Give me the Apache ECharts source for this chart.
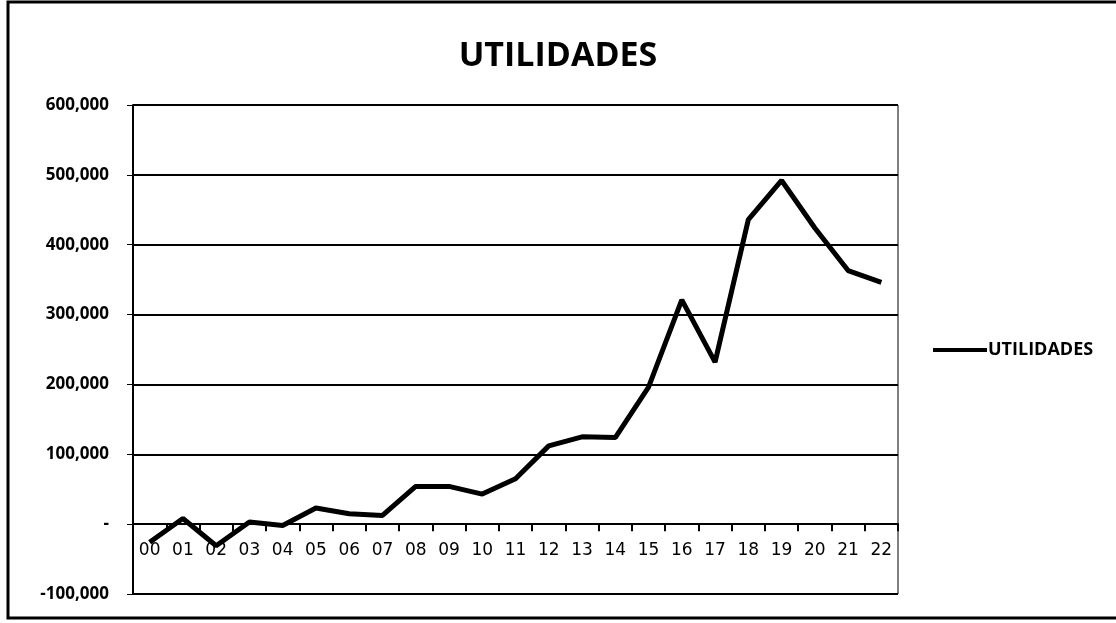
<!DOCTYPE html>
<html>
<head>
<meta charset="utf-8">
<script src="https://cdn.jsdelivr.net/npm/echarts@6/dist/echarts.min.js"></script>
<style>
  html, body { margin: 0; padding: 0; background: #fff; }
  #myChart { width: 1116px; height: 623px; }
</style>
</head>
<body>
<div id="myChart"></div>
<script>
// years 00..22
var years = ['00','01','02','03','04','05','06','07','08','09','10','11',
             '12','13','14','15','16','17','18','19','20','21','22'];
// utilidades
var utilidades = [-26000, 8000, -31000, 3000, -2000, 23000, 15000, 12500, 54000,
                  54000, 43000, 65000, 112000, 125000, 124000, 196000, 321000,
                  232000, 436000, 492000, 424000, 363000, 346000];
var yTicks = { min: -100000, max: 600000, step: 100000 };

var myChart = echarts.init(document.getElementById('myChart'));

function fmt(v){
  if (v === 0) return '-';
  return (v < 0 ? '-' : '') + Math.abs(v).toString().replace(/\B(?=(\d{3})+(?!\d))/g, ',');
}

var option = {
  animation: false,
  title: {
    text: 'UTILIDADES',
    left: 'center',
    top: 34,
    textStyle: { fontFamily: 'Open Sans', fontWeight: 'bold', fontSize: 34, color: '#000' }
  },
  legend: {
    data: ['UTILIDADES'],
    orient: 'vertical',
    left: 928,
    top: 336,
    itemWidth: 54,
    itemHeight: 4,
    itemGap: 0,
    icon: 'rect',
    textStyle: { fontFamily: 'Open Sans', fontWeight: 'bold', fontSize: 18, color: '#000', padding: [0, 0, 0, -4] }
  },
  grid: {
    left: 133, right: 218, top: 105, bottom: 29,
    show: true, borderColor: '#000', borderWidth: 1,
    containLabel: false
  },
  xAxis: {
    type: 'category',
    data: years,
    boundaryGap: true,
    axisLine: { onZero: true, lineStyle: { color: '#000', width: 2 } },
    axisTick: { show: true, length: 7, lineStyle: { color: '#000', width: 2 } },
    // v6 puts labels at grid bottom, pull them up under the zero line
    axisLabel: { fontFamily: 'DejaVu Sans', fontSize: 17, color: '#000', margin: -52, interval: 0 }
  },
  yAxis: {
    type: 'value',
    min: yTicks.min, max: yTicks.max, interval: yTicks.step,
    axisLine: { show: true, lineStyle: { color: '#000', width: 2 } },
    axisTick: { show: true, length: 6, lineStyle: { color: '#000' } },
    axisLabel: {
      formatter: fmt, fontFamily: 'Open Sans', fontWeight: 'bold', fontSize: 17, color: '#000', margin: 24
    },
    splitLine: { show: true, lineStyle: { color: '#000', width: 2 } }
  },
  graphic: [{
    type: 'rect',
    shape: { x: 8, y: 2, width: 1130, height: 616 },
    style: { fill: 'none', stroke: '#000', lineWidth: 3 },
    silent: true
  }],
  series: [{
    name: 'UTILIDADES',
    type: 'line',
    data: utilidades,
    symbol: 'none',
    lineStyle: { color: '#000', width: 5 },
    itemStyle: { color: '#000' }
  }]
};
myChart.setOption(option);
</script>
</body>
</html>
